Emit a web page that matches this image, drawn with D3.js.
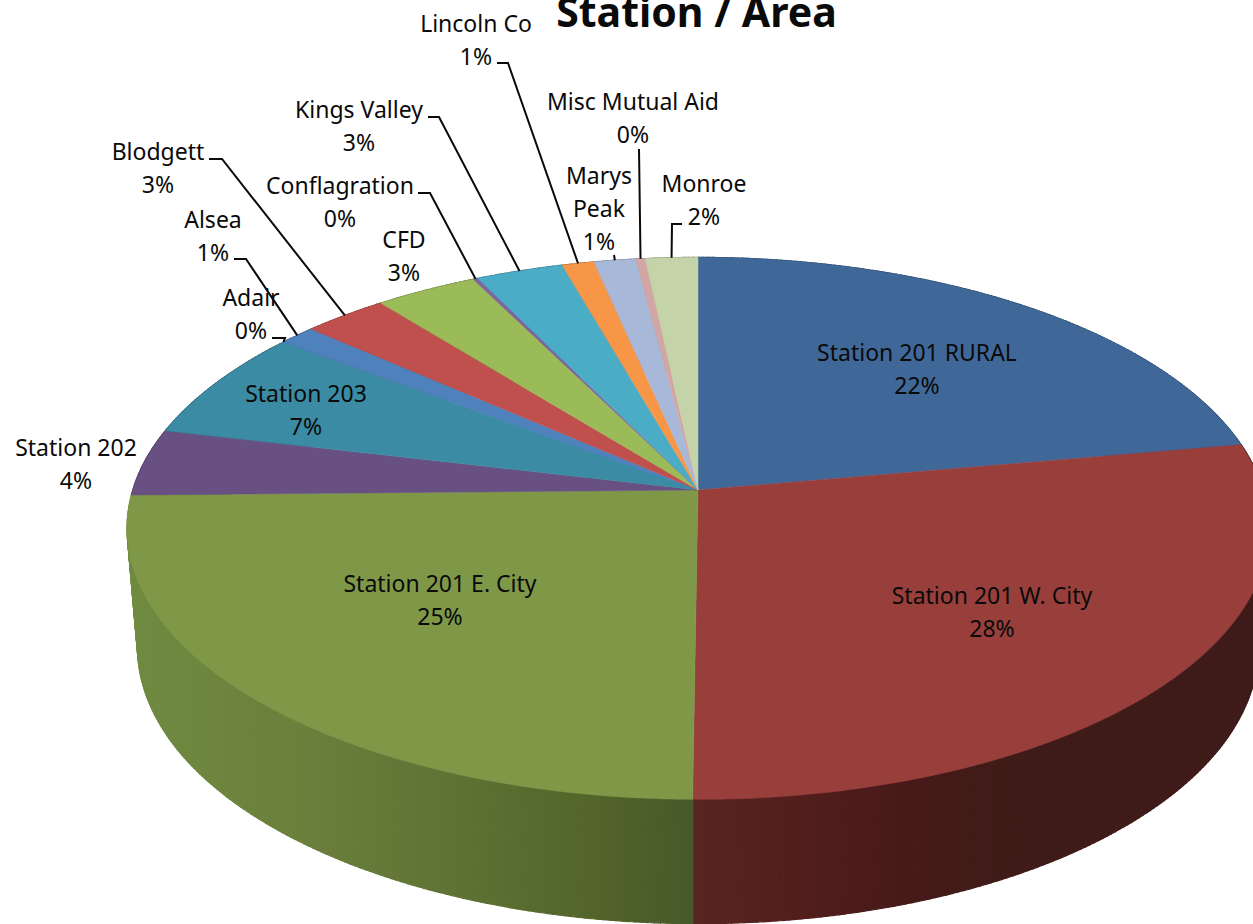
<!DOCTYPE html>
<html>
<head>
<meta charset="utf-8">
<script src="https://d3js.org/d3.v7.min.js"></script>
<style>
  html, body { margin: 0; padding: 0; background: #fff; overflow: hidden; }
  svg { display: block; }
  text { font-family: "Noto Sans", sans-serif; fill: #0a0a0a; }
</style>
</head>
<body>
<div class="graph-container"></div>
<script>
const categories = ["Station 201 RURAL", "Station 201 W. City", "Station 201 E. City", "Station 202", "Station 203",
  "Adair", "Alsea", "Blodgett", "CFD", "Conflagration", "Kings Valley", "Lincoln Co", "Marys Peak", "Misc Mutual Aid", "Monroe"];
const shares = [22.2, 27.93, 24.57, 4.0, 6.63, 0.03, 1.17, 2.75, 3.33, 0.15, 2.84, 1.04, 1.36, 0.3, 1.7];

const colors = ["#3f6899", "#983f3c", "#7f9848", "#695082", "#3a8ba3", "#4f81bd", "#4f81bd", "#c0504d", "#9bbb59",
  "#8064a2", "#4bacc6", "#f79646", "#a8b8d8", "#d3a6a6", "#c5d3a9"];

// label layout, one entry per category: centre x, first baseline, wrapped name, leader elbow points
const labelLayout = [
  { x: 917, y: 361 },
  { x: 992, y: 604 },
  { x: 440, y: 592 },
  { x: 76, y: 456 },
  { x: 306, y: 402 },
  { x: 251, y: 306, leader: [[272, 338], [285, 338]] },
  { x: 213, y: 228, leader: [[234, 259], [246, 259]] },
  { x: 158, y: 160, leader: [[209, 159], [222, 159]] },
  { x: 404, y: 248 },
  { x: 340, y: 194, leader: [[418, 193], [430, 193]] },
  { x: 359, y: 118, leader: [[428, 117], [439, 117]] },
  { x: 476, y: 32, leader: [[497, 63], [508, 63]] },
  { x: 599, y: 184, lines: ["Marys", "Peak"], leader: [[614, 255]] },
  { x: 633, y: 110, leader: [[639, 149]] },
  { x: 704, y: 192, leader: [[682, 224], [672, 224]] }
];

const dims = { width: 1253, height: 924, cx: 698, lineGap: 33 };
const persp = 0.1416;
const top3d = { apex: 490, rx: 571, ry: 271 };
const bottom3d = { apex: 608, rx: 560.5, ry: 276.5 };

const svg = d3.select(".graph-container").append("svg")
  .attr("width", dims.width)
  .attr("height", dims.height);

const pie = d3.pie().sort(null).value(d => d);
const arcs = pie(shares);
const pct = d3.format(".0%");

// perspective view of a flat disc: angle from 12 o'clock, clockwise
const project = (theta, ring) => {
  const u = Math.sin(theta), v = -Math.cos(theta);
  const w = 1 - persp * v;
  const q = Math.sqrt(1 - persp * persp);
  return [dims.cx + ring.rx * q * u / w, ring.apex + ring.ry * q * q * v / w];
};

const rim = (a0, a1, ring) => {
  const n = Math.max(2, Math.ceil((a1 - a0) / 0.01));
  return d3.range(n + 1).map(i => project(a0 + (a1 - a0) * i / n, ring));
};

const line = d3.line();

// side wall shading
const defs = svg.append("defs");
const sideGradient = (id, stops) => {
  const g = defs.append("linearGradient").attr("id", id)
    .attr("gradientUnits", "userSpaceOnUse")
    .attr("x1", 0).attr("y1", 0).attr("x2", dims.width).attr("y2", 0);
  g.selectAll("stop").data(stops).enter().append("stop")
    .attr("offset", d => d[0] / dims.width)
    .attr("stop-color", d => d[1]);
};
sideGradient("sideW", [[693, "#5a2420"], [800, "#511e1c"], [900, "#471a19"], [1000, "#3f1b18"], [1253, "#3e1b18"]]);
sideGradient("sideE", [[127, "#708a40"], [300, "#6a803b"], [450, "#5f7335"], [600, "#526429"], [693, "#46592a"]]);
const sideFill = i => i === 1 ? "url(#sideW)" : i === 2 ? "url(#sideE)" : d3.color(colors[i]).darker(1.2);

// walls back to front, so the near slices stay on top
const midAngle = d => (d.startAngle + d.endAngle) / 2;
const wallOrder = arcs.slice().sort((a, b) => Math.abs(midAngle(b) - Math.PI) - Math.abs(midAngle(a) - Math.PI));

// each wall is a run of separate quads: one outline would cancel itself where the wall turns away
const wallQuads = d => {
  const t = rim(d.startAngle, d.endAngle, top3d);
  const b = rim(d.startAngle, d.endAngle, bottom3d);
  return d3.pairs(d3.range(t.length)).map(([i, j]) => ({ index: d.index, pts: [t[i], t[j], b[j], b[i]] }));
};

svg.append("g").selectAll("g").data(wallOrder).enter().append("g")
  .selectAll("path").data(wallQuads).enter().append("path")
  .attr("d", d => line(d.pts) + "Z")
  .attr("fill", d => sideFill(d.index))
  .attr("stroke", d => sideFill(d.index))
  .attr("stroke-width", 1.2);

svg.append("g").selectAll("path").data(arcs).enter().append("path")
  .attr("d", d => line([[dims.cx, top3d.apex]].concat(rim(d.startAngle, d.endAngle, top3d))) + "Z")
  .attr("fill", (d, i) => colors[i])
  .attr("stroke", (d, i) => colors[i])
  .attr("stroke-width", 0.5);

// leader lines end on the rim at the middle of the slice
svg.append("g").selectAll("path").data(arcs.filter((d, i) => labelLayout[i].leader)).enter().append("path")
  .attr("d", d => line(labelLayout[d.index].leader.concat([project(midAngle(d), top3d)])))
  .attr("fill", "none")
  .attr("stroke", "#0a0a0a")
  .attr("stroke-width", 2);

const labels = svg.append("g").selectAll("text").data(arcs).enter().append("text")
  .attr("text-anchor", "middle")
  .attr("font-size", 23);

labels.each(function (d, i) {
  const l = labelLayout[i];
  const rows = (l.lines || [categories[i]]).concat([pct(shares[i] / 100)]);
  d3.select(this).selectAll("tspan").data(rows).enter().append("tspan")
    .attr("x", l.x)
    .attr("y", (r, j) => l.y + j * dims.lineGap)
    .text(r => r);
});

svg.append("text")
  .attr("x", 696.5)
  .attr("y", 27)
  .attr("text-anchor", "middle")
  .attr("font-size", 41)
  .attr("font-weight", 700)
  .text("Station / Area");
</script>
</body>
</html>
